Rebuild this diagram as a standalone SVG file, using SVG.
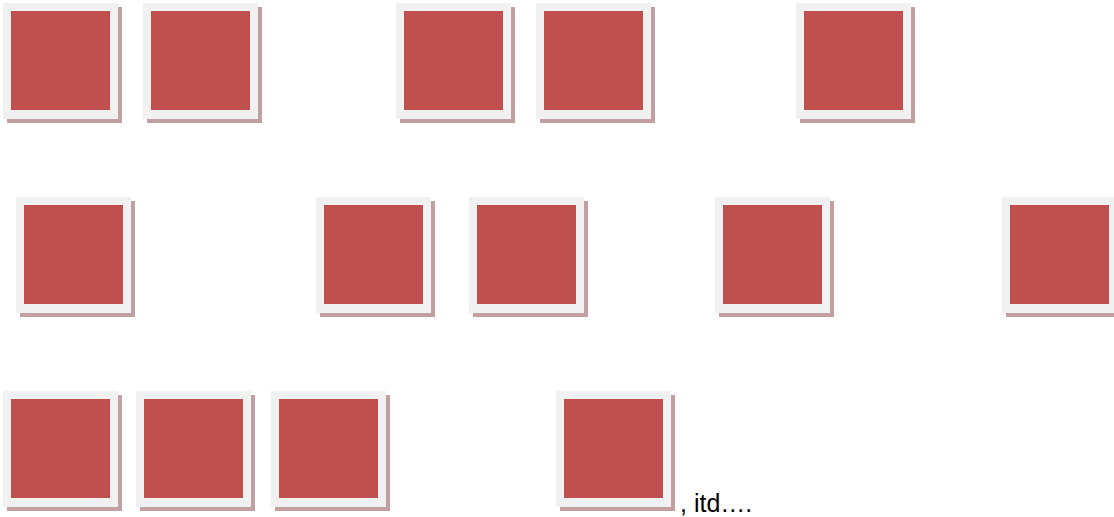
<svg xmlns="http://www.w3.org/2000/svg" xmlns:xlink="http://www.w3.org/1999/xlink" width="1114" height="517" viewBox="0 0 1114 517">
<style>
.shadow{fill:#c2a0a2}
.frame{fill:#f2f1f1}
.box{fill:#c0504d}
.lbl{font-family:"Liberation Sans",Arial,sans-serif;font-size:25px;fill:#000}
</style>
<defs>
<g id="sq">
<rect class="shadow" x="-4" y="-4" width="115" height="116"/>
<rect class="frame" x="-8" y="-8" width="115" height="116"/>
<rect class="box" x="0" y="0" width="99" height="99"/>
</g>
</defs>
<rect width="1114" height="517" fill="#fff"/>
<g id="r1c1"><use xlink:href="#sq" x="11" y="11"/></g>
<g id="r1c2"><use xlink:href="#sq" x="151" y="11"/></g>
<g id="r1c3"><use xlink:href="#sq" x="404" y="11"/></g>
<g id="r1c4"><use xlink:href="#sq" x="544" y="11"/></g>
<g id="r1c5"><use xlink:href="#sq" x="804" y="11"/></g>
<g id="r2c1"><use xlink:href="#sq" x="24" y="205"/></g>
<g id="r2c2"><use xlink:href="#sq" x="324" y="205"/></g>
<g id="r2c3"><use xlink:href="#sq" x="477" y="205"/></g>
<g id="r2c4"><use xlink:href="#sq" x="723" y="205"/></g>
<g id="r2c5"><use xlink:href="#sq" x="1010" y="205"/></g>
<g id="r3c1"><use xlink:href="#sq" x="11" y="399"/></g>
<g id="r3c2"><use xlink:href="#sq" x="144" y="399"/></g>
<g id="r3c3"><use xlink:href="#sq" x="279" y="399"/></g>
<g id="r3c4"><use xlink:href="#sq" x="564" y="399"/></g>
<g id="label"><text class="lbl" x="680" y="512">, itd….</text></g>
</svg>
